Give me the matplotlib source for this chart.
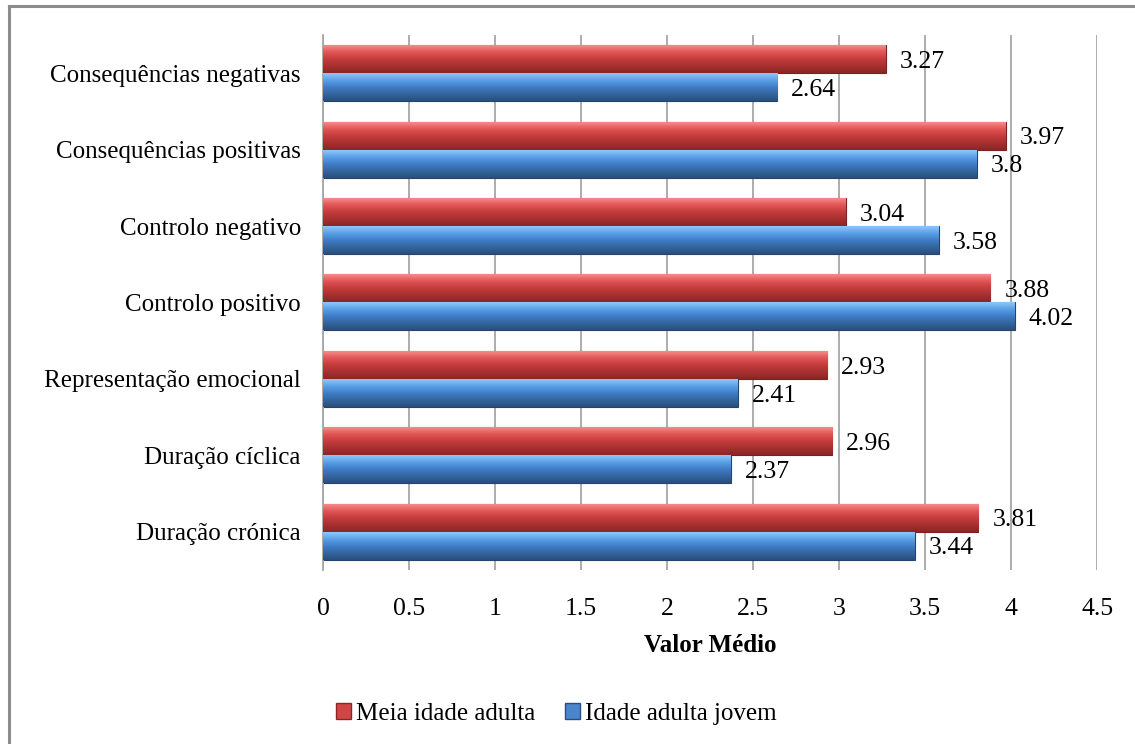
import numpy as np
import matplotlib
matplotlib.use('Agg')
import matplotlib.pyplot as plt
from matplotlib.patches import Patch
from matplotlib.lines import Line2D
from matplotlib.colors import LinearSegmentedColormap

plt.rcParams['font.family'] = ['Liberation Serif', 'DejaVu Serif']

categories = ['Consequências negativas', 'Consequências positivas', 'Controlo negativo',
              'Controlo positivo', 'Representação emocional', 'Duração cíclica',
              'Duração crónica']
meia_idade = [3.27, 3.97, 3.04, 3.88, 2.93, 2.96, 3.81]
jovem = [2.64, 3.80, 3.58, 4.02, 2.41, 2.37, 3.44]
series_names = ['Meia idade adulta', 'Idade adulta jovem']

red_cmap = LinearSegmentedColormap.from_list(
    'red3d', ['#f58a8a', '#e05454', '#c43c3c', '#a83030', '#8a2626'])
blue_cmap = LinearSegmentedColormap.from_list(
    'blue3d', ['#8cc8f8', '#5aa0e6', '#3f7dc8', '#34669f', '#2a4e7c'])

fig = plt.figure(figsize=(11.35, 7.44), dpi=100)
ax = fig.add_axes([0.2846, 0.234, 0.682, 0.719])

y = np.arange(len(categories))
h = 0.366


def shade(bars, cmap):
    # vertical gradient inside each bar for the bevelled look
    grad = np.linspace(0, 1, 64).reshape(-1, 1)
    for b in bars:
        x0, y0 = b.get_x(), b.get_y()
        w, hh = b.get_width(), b.get_height()
        im = ax.imshow(grad, cmap=cmap, aspect='auto',
                       extent=[x0, x0 + w, y0 + hh, y0], zorder=3,
                       interpolation='bicubic')
        im.set_clip_path(b)


bars_r = ax.barh(y - h / 2, meia_idade, height=h, color='#c43c3c',
                 edgecolor='#7a2020', linewidth=0.8, zorder=2)
bars_b = ax.barh(y + h / 2, jovem, height=h, color='#3f7dc8',
                 edgecolor='#24446c', linewidth=0.8, zorder=2)
shade(bars_r, red_cmap)
shade(bars_b, blue_cmap)

for bars, vals in [(bars_r, meia_idade), (bars_b, jovem)]:
    for b, v in zip(bars, vals):
        ax.annotate(f'{v:g}', (v, b.get_y() + b.get_height() / 2),
                    xytext=(10, -2), textcoords='offset points',
                    va='center', ha='left', fontsize=18.5, zorder=5)

ax.set_xlim(0, 4.5)
ax.set_ylim(len(categories) - 0.5, -0.5)
ax.set_xticks(np.arange(0, 4.51, 0.5))
ax.set_xticklabels(['0', '0.5', '1', '1.5', '2', '2.5', '3', '3.5', '4', '4.5'])
ax.set_yticks(y)
ax.set_yticklabels(categories)
ax.tick_params(axis='both', length=0, labelsize=18)
ax.tick_params(axis='y', pad=16)
ax.tick_params(axis='x', pad=20, labelsize=18.5)
ax.grid(axis='x', color='#a6a6a6', linewidth=1.3, zorder=0)
ax.set_axisbelow(True)
for s in ['top', 'right', 'bottom']:
    ax.spines[s].set_visible(False)
ax.spines['left'].set_color('#a6a6a6')
ax.spines['left'].set_linewidth(1.3)

ax.set_xlabel('Valor Médio', fontsize=18, fontweight='bold', labelpad=10)

handles = [Patch(facecolor='#d04646', edgecolor='#8a2626'),
           Patch(facecolor='#4a86cc', edgecolor='#2a4e7c')]
fig.legend(handles, series_names, loc='center', bbox_to_anchor=(0.49, 0.04),
           ncol=2, frameon=False, fontsize=18, handlelength=0.6,
           handleheight=0.6, handletextpad=0.2, columnspacing=1.2)

# chart area border (left and top edges)
fig.add_artist(Line2D([0.0075, 0.0075], [0, 0.992], color='#8c8c8c',
                      linewidth=2.2, transform=fig.transFigure))
fig.add_artist(Line2D([0.0075, 1], [0.992, 0.992], color='#8c8c8c',
                      linewidth=2.2, transform=fig.transFigure))

plt.savefig('out.png', dpi=100)
